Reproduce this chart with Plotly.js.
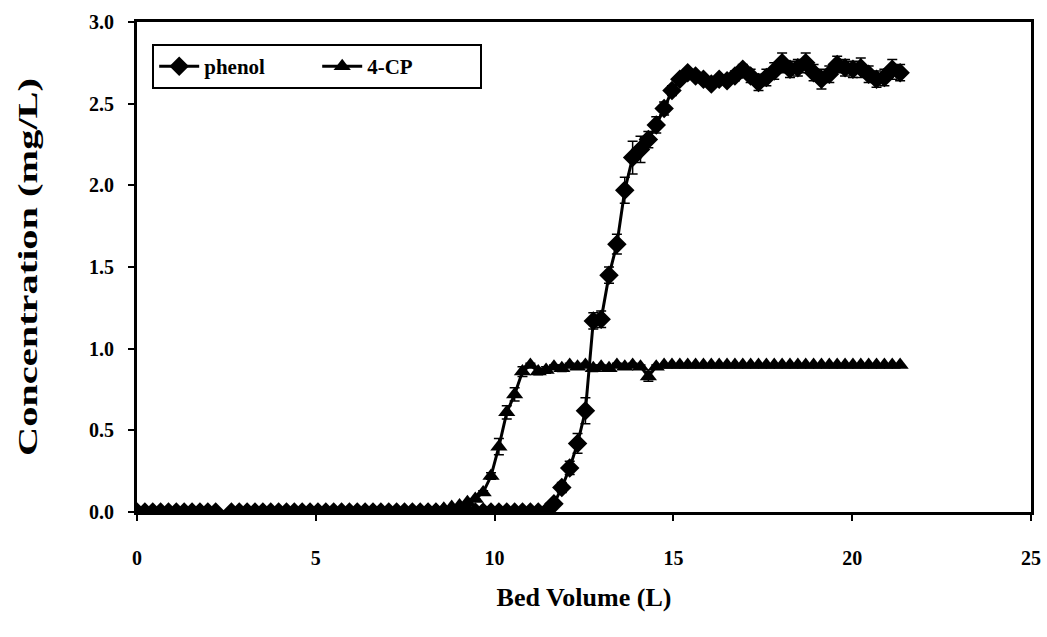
<!DOCTYPE html>
<html>
<head>
<meta charset="utf-8">
<script src="https://cdn.plot.ly/plotly-3.0.1.min.js"></script>
<style>html,body{margin:0;padding:0;background:#fff;}#chart{width:1047px;height:637px;}</style>
</head>
<body>
<div id="chart"></div>
<script>
// Bed volume (L) for both series
const bedVolume = [0, 0.22, 0.44, 0.66, 0.88, 1.10, 1.32, 1.54, 1.76, 1.98, 2.20,
  2.64, 2.86, 3.08, 3.30, 3.52, 3.74, 3.96, 4.18, 4.40, 4.62, 4.84, 5.06, 5.28, 5.50,
  5.72, 5.94, 6.16, 6.38, 6.60, 6.82, 7.04, 7.26, 7.48, 7.70, 7.92, 8.14, 8.36, 8.58,
  8.80, 9.02, 9.24, 9.46, 9.68, 9.90, 10.12, 10.34, 10.56, 10.78, 11.00, 11.22, 11.44,
  11.66, 11.88, 12.10, 12.32, 12.54, 12.76, 12.98, 13.20, 13.42, 13.64, 13.86, 14.08,
  14.30, 14.52, 14.74, 14.96, 15.18, 15.40, 15.62, 15.84, 16.06, 16.28, 16.50, 16.72,
  16.94, 17.16, 17.38, 17.60, 17.82, 18.04, 18.26, 18.48, 18.70, 18.92, 19.14, 19.36,
  19.58, 19.80, 20.02, 20.24, 20.46, 20.68, 20.90, 21.12, 21.34];

// Phenol concentration (mg/L)
const phenol = [0,0,0,0,0,0,0,0,0,0,0,
  0,0,0,0,0,0,0,0,0,0,0,0,0,0,
  0,0,0,0,0,0,0,0,0,0,0,0,0,0,
  0,0,0,0,0,0,0,0,0,0,0,0,0,
  0.05, 0.15, 0.27, 0.42, 0.62, 1.17, 1.18, 1.45, 1.64, 1.97, 2.17, 2.22,
  2.28, 2.37, 2.47, 2.58, 2.65, 2.69, 2.67, 2.65, 2.62, 2.65, 2.64, 2.67,
  2.71, 2.67, 2.63, 2.66, 2.70, 2.75, 2.71, 2.72, 2.75, 2.69, 2.65, 2.68,
  2.74, 2.72, 2.71, 2.72, 2.68, 2.65, 2.66, 2.71, 2.69];
const phenolErr = [0,0,0,0,0,0,0,0,0,0,0,
  0,0,0,0,0,0,0,0,0,0,0,0,0,0,
  0,0,0,0,0,0,0,0,0,0,0,0,0,0,
  0,0,0,0,0,0,0,0,0,0,0,0,0,
  0.02, 0.03, 0.04, 0.06, 0.08, 0.05, 0.05, 0.05, 0.06, 0.08, 0.10, 0.08,
  0.05, 0.05, 0.04, 0.03, 0.02, 0.02, 0.02, 0.02, 0.02, 0.02, 0.02, 0.03,
  0.03, 0.04, 0.05, 0.05, 0.05, 0.06, 0.05, 0.05, 0.06, 0.05, 0.06, 0.05,
  0.05, 0.05, 0.05, 0.06, 0.05, 0.05, 0.05, 0.06, 0.05];

// 4-CP concentration (mg/L)
const cp4 = [0,0,0,0,0,0,0,0,0,0,0,
  0,0,0,0,0,0,0,0,0,0,0,0,0,0,
  0,0,0,0,0,0,0,0,0,0,0,
  0.01, 0.01, 0.02, 0.03, 0.04, 0.06, 0.08, 0.12, 0.22, 0.40, 0.61, 0.72,
  0.86, 0.90, 0.86, 0.87, 0.89, 0.88, 0.90, 0.89, 0.90, 0.88, 0.89, 0.88,
  0.90, 0.89, 0.90, 0.89, 0.83, 0.89, 0.90, 0.90, 0.90, 0.90, 0.90, 0.90,
  0.90, 0.90, 0.90, 0.90, 0.90, 0.90, 0.90, 0.90, 0.90, 0.90, 0.90, 0.90,
  0.90, 0.90, 0.90, 0.90, 0.90, 0.90, 0.90, 0.90, 0.90, 0.90, 0.90, 0.90, 0.90];
const cp4Err = [0,0,0,0,0,0,0,0,0,0,0,
  0,0,0,0,0,0,0,0,0,0,0,0,0,0,
  0,0,0,0,0,0,0,0,0,0,0,
  0, 0, 0, 0, 0, 0, 0, 0.01, 0.02, 0.05, 0.04, 0.04,
  0.03, 0.01, 0.02, 0.02, 0.01, 0.02, 0.01, 0.01, 0.01, 0.02, 0.01, 0.01,
  0.01, 0.01, 0.01, 0.01, 0.03, 0.01, 0, 0, 0, 0, 0, 0,
  0, 0, 0, 0, 0, 0, 0, 0, 0, 0, 0, 0,
  0, 0, 0, 0, 0, 0, 0, 0, 0, 0, 0, 0, 0];

const xTicks = [0, 5, 10, 15, 20, 25];
const yTicks = [0.0, 0.5, 1.0, 1.5, 2.0, 2.5, 3.0];

const FONT = 'Liberation Serif, Times New Roman, serif';

const traces = [
  {
    x: bedVolume, y: phenol, name: 'phenol', type: 'scatter', mode: 'lines+markers',
    line: {color: '#000', width: 3},
    marker: {symbol: 'diamond', size: 15, color: '#000'},
    error_y: {type: 'data', array: phenolErr, visible: true, color: '#000', thickness: 1.5, width: 5}
  },
  {
    x: bedVolume, y: cp4, name: '4-CP', type: 'scatter', mode: 'lines+markers',
    line: {color: '#000', width: 3},
    marker: {symbol: 'triangle-up', size: 15, color: '#000'},
    error_y: {type: 'data', array: cp4Err, visible: true, color: '#000', thickness: 1.5, width: 5}
  }
];

const layout = {
  width: 1047, height: 637,
  margin: {l: 137, r: 16, t: 22, b: 125},
  paper_bgcolor: '#fff', plot_bgcolor: '#fff',
  font: {family: FONT, color: '#000', size: 20, weight: 700},
  showlegend: true,
  legend: {
    orientation: 'h', x: 0.017, y: 0.955, xanchor: 'left', yanchor: 'top',
    bordercolor: '#000', borderwidth: 2, bgcolor: '#fff',
    font: {family: FONT, size: 21, weight: 700, color: '#000'},
    entrywidth: 108, entrywidthmode: 'pixels',
    itemwidth: 40, traceorder: 'normal'
  },
  xaxis: {
    range: [0, 25], tickvals: xTicks, ticktext: xTicks.map(String),
    showline: true, linecolor: '#000', linewidth: 3, mirror: true,
    ticks: 'outside', ticklen: 6, tickwidth: 2, tickcolor: '#000',
    showgrid: false, zeroline: false,
    tickfont: {family: FONT, size: 20, weight: 700},
    ticklabelstandoff: 20,
    title: {text: 'Bed Volume (L)', font: {family: FONT, size: 26, weight: 700}, standoff: 20},
    automargin: false
  },
  yaxis: {
    range: [0, 3.0], tickvals: yTicks, ticktext: yTicks.map(v => v.toFixed(1)),
    showline: true, linecolor: '#000', linewidth: 3, mirror: true,
    ticks: 'outside', ticklen: 6, tickwidth: 2, tickcolor: '#000',
    showgrid: false, zeroline: false,
    tickfont: {family: FONT, size: 20, weight: 700},
    ticklabelstandoff: 10,
    title: {text: 'Concentration (mg/L)', font: {family: FONT, size: 28, weight: 700}, standoff: 44},
    automargin: false
  }
};

Plotly.newPlot('chart', traces, layout, {displayModeBar: false, staticPlot: true}).then(function () {
  // the reference's y-axis title is drawn stretched along its length
  const t = document.querySelector('#chart .ytitle');
  if (t) {
    t.setAttribute('textLength', '378');
    t.setAttribute('lengthAdjust', 'spacingAndGlyphs');
  }
});
</script>
</body>
</html>
